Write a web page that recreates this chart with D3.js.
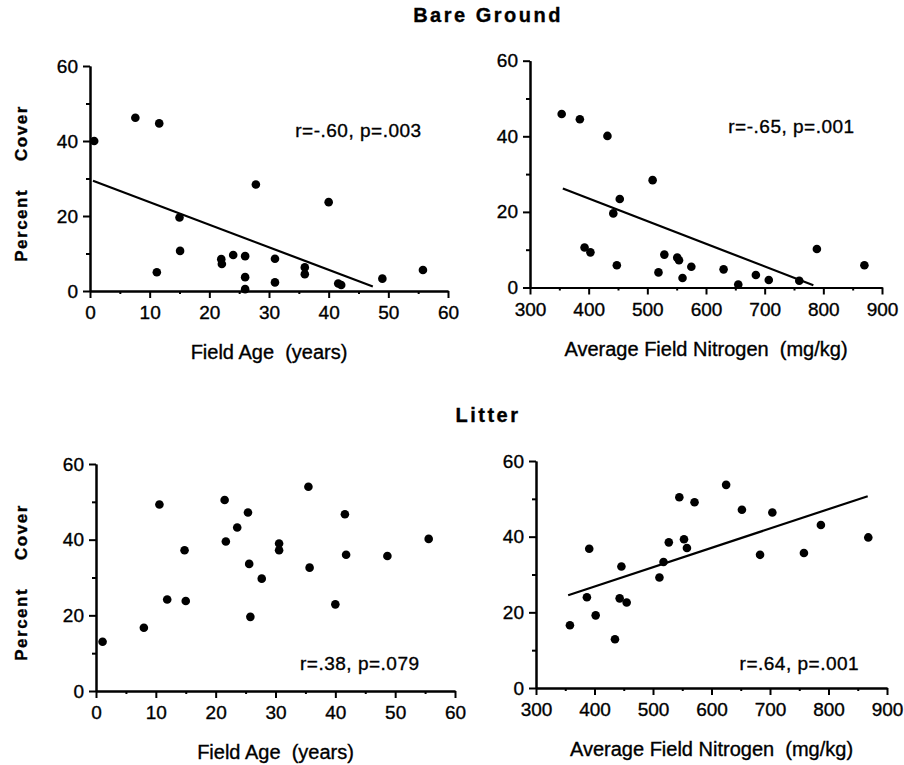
<!DOCTYPE html>
<html>
<head>
<meta charset="utf-8">
<script src="https://cdn.jsdelivr.net/npm/d3@7"></script>
<style>
  body { margin: 0; background: #fff; }
  svg { display: block; font-family: "Liberation Sans", Arial, Helvetica, sans-serif; }
  svg text { fill: #000; stroke: #000; stroke-width: 0.35px; }
  .axis path, .axis line { stroke: #000; stroke-width: 2; }
  .axis text { font-size: 19px; }
</style>
</head>
<body>
<div id="chart"></div>
<script>
// ---- data ----
var ageBare  = [0.7, 7.6, 11.6, 11.2, 15.0, 15.1, 22.0, 22.1, 24.0, 26.0, 26.0, 26.0, 27.8, 31.0, 31.0, 36.0, 36.0, 40.0, 41.6, 42.1, 49.0, 55.8];
var bareAge  = [40.0, 46.2, 44.7, 5.0, 19.6, 10.7, 8.5, 7.2, 9.6, 9.3, 3.7, 0.5, 28.4, 8.6, 2.3, 6.3, 4.5, 23.7, 2.0, 1.6, 3.3, 5.6];

var nitroBare = [354, 385, 432, 509, 453, 442, 393, 403, 448, 519, 529, 551, 554, 560, 575, 630, 655, 685, 707, 759, 789, 870];
var bareNitro = [45.9, 44.5, 40.1, 28.4, 23.4, 19.6, 10.6, 9.3, 5.9, 4.0, 8.7, 7.9, 7.2, 2.5, 5.5, 4.8, 0.8, 3.3, 2.0, 1.8, 10.2, 5.9];

var ageLitter = [1.1, 8.0, 10.6, 11.9, 14.8, 15.0, 21.5, 21.7, 23.6, 25.4, 25.6, 25.8, 27.7, 30.6, 30.6, 35.5, 35.7, 40.0, 41.6, 41.8, 48.7, 55.6];
var litterAge = [13.0, 16.7, 49.3, 24.2, 37.2, 23.8, 50.5, 39.5, 43.2, 47.2, 33.6, 19.6, 29.7, 39.0, 37.2, 54.0, 32.6, 22.9, 46.7, 36.0, 35.7, 40.2];

var nitroLitter = [358, 391, 387, 402, 435, 443, 446, 455, 511, 518, 527, 545, 553, 558, 571, 625, 652, 683, 704, 758, 787, 868];
var litterNitro = [16.6, 36.8, 24.0, 19.2, 12.9, 23.7, 32.1, 22.6, 29.2, 33.3, 38.5, 50.4, 39.3, 37.0, 49.1, 53.7, 47.1, 35.2, 46.4, 35.7, 43.1, 39.8];

// fitted lines as [x, y] end points in data units (null = no line drawn)
var fitBareAge    = [[0.5, 29.4], [47.4, 1.2]];
var fitBareNitro  = [[356, 26.2], [783, 0.6]];
var fitLitterAge  = null;
var fitLitterNitro = [[355, 24.5], [867, 50.7]];

var statLabels = ["r=-.60, p=.003", "r=-.65, p=.001", "r=.38, p=.079", "r=.64, p=.001"];
var statPos = [[34.4, 43], [638, 42.8], [34.1, 7.4], [648, 6.6]];

var ageTicks = [0, 10, 20, 30, 40, 50, 60];
var nitroTicks = [300, 400, 500, 600, 700, 800, 900];
var coverTicks = [0, 20, 40, 60];
var coverMinor = [10, 30, 50];

var sectionTitles = ["Bare Ground", "Litter"];

// ---- layout ----
var width = 904, height = 765;

var panels = [
  { xs: ageBare,     ys: bareAge,     fit: fitBareAge,     dom: [0, 60],    ticks: ageTicks,   xl: "Field Age  (years)",             ylab: true,  x0: 90,  x1: 448, yb: 291,   yt: 66 },
  { xs: nitroBare,   ys: bareNitro,   fit: fitBareNitro,   dom: [300, 900], ticks: nitroTicks, xl: "Average Field Nitrogen  (mg/kg)", ylab: false, x0: 530, x1: 882, yb: 287.5, yt: 60.7 },
  { xs: ageLitter,   ys: litterAge,   fit: fitLitterAge,   dom: [0, 60],    ticks: ageTicks,   xl: "Field Age  (years)",             ylab: true,  x0: 96,  x1: 455, yb: 691,   yt: 464 },
  { xs: nitroLitter, ys: litterNitro, fit: fitLitterNitro, dom: [300, 900], ticks: nitroTicks, xl: "Average Field Nitrogen  (mg/kg)", ylab: false, x0: 536, x1: 887, yb: 688,   yt: 461 }
];

var svg = d3.select("#chart").append("svg")
  .attr("width", width)
  .attr("height", height);

// section titles
svg.selectAll(".title")
  .data(sectionTitles)
  .enter().append("text")
  .attr("class", "title")
  .attr("x", 488)
  .attr("y", function(d, i) { return i == 0 ? 22 : 422; })
  .attr("text-anchor", "middle")
  .style("font-size", "20px")
  .style("font-weight", "bold")
  .style("letter-spacing", "2.5px")
  .text(function(d) { return d; });

panels.forEach(function(p, i) {
  var x = d3.scaleLinear().domain(p.dom).range([p.x0, p.x1]);
  var y = d3.scaleLinear().domain([0, 60]).range([p.yb, p.yt]);
  var g = svg.append("g");

  var step = p.ticks[1] - p.ticks[0];
  var xMinor = p.ticks.slice(0, -1).map(function(t) { return t + step / 2; });

  // minor ticks first, majors drawn over
  g.append("g").attr("class", "axis")
    .attr("transform", "translate(0," + p.yb + ")")
    .call(d3.axisBottom(x).tickValues(xMinor).tickSize(3).tickSizeOuter(0).tickFormat(""));
  g.append("g").attr("class", "axis")
    .attr("transform", "translate(" + p.x0 + ",0)")
    .call(d3.axisLeft(y).tickValues(coverMinor).tickSize(4).tickSizeOuter(0).tickFormat(""));

  g.append("g").attr("class", "axis")
    .attr("transform", "translate(0," + p.yb + ")")
    .call(d3.axisBottom(x).tickValues(p.ticks).tickSize(7).tickPadding(8).tickSizeOuter(0).tickFormat(d3.format("d")));
  g.append("g").attr("class", "axis")
    .attr("transform", "translate(" + p.x0 + ",0)")
    .call(d3.axisLeft(y).tickValues(coverTicks).tickSize(7).tickPadding(5).tickSizeOuter(0).tickFormat(d3.format("d")));

  // regression line
  if (p.fit) {
    g.append("path")
      .datum(p.fit)
      .attr("fill", "none")
      .attr("stroke", "#000")
      .attr("stroke-width", 2.2)
      .attr("d", d3.line().x(function(d) { return x(d[0]); }).y(function(d) { return y(d[1]); }));
  }

  // points
  g.selectAll(".dot")
    .data(d3.range(p.xs.length))
    .enter().append("circle")
    .attr("class", "dot")
    .attr("cx", function(k) { return x(p.xs[k]); })
    .attr("cy", function(k) { return y(p.ys[k]); })
    .attr("r", 4.3)
    .attr("fill", "#000");

  // r / p annotation
  g.append("text")
    .attr("x", x(statPos[i][0]))
    .attr("y", y(statPos[i][1]))
    .attr("dy", "0.36em")
    .style("font-size", "19px")
    .style("letter-spacing", "0.5px")
    .text(statLabels[i]);

  // x axis title
  g.append("text")
    .attr("x", (p.x0 + p.x1) / 2)
    .attr("y", p.yb + 68)
    .attr("text-anchor", "middle")
    .style("font-size", "20px")
    .attr("xml:space", "preserve")
    .text(p.xl);

  // y axis title
  if (p.ylab) {
    var yl = g.append("text")
      .attr("transform", "translate(27," + ((p.yb + p.yt) / 2 + 5) + ") rotate(-90)")
      .attr("text-anchor", "middle")
      .style("font-size", "17px")
      .style("font-weight", "bold")
      .style("letter-spacing", "1.5px");
    yl.append("tspan").text("Percent");
    yl.append("tspan").attr("dx", 28).text("Cover");
  }
});
</script>
</body>
</html>
